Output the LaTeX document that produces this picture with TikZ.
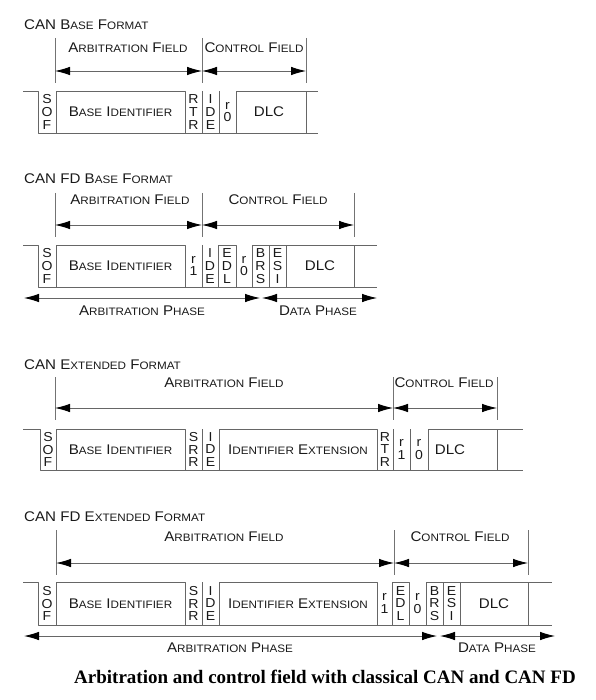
\documentclass[tikz,border=0pt]{standalone}
\usepackage{fontspec}
\setmainfont{Liberation Sans}[FakeStretch=1.08]
\newfontfamily\capfont{Liberation Serif}
\usetikzlibrary{arrows.meta}
\newcommand\bigsz{\fontsize{14}{14}\selectfont}
\newcommand\smsz{\fontsize{10.8}{10.8}\selectfont}
\newcommand\fcap[2]{{\bigsz #1}{\smsz #2}}
\begin{document}
\begin{tikzpicture}[x=1pt, y=-1pt, line join=round,
	wave/.style={draw=black!60, line width=0.9pt},
	fld/.style={draw=black!55, line width=0.8pt},
	dim/.style={draw=black!60, line width=0.9pt,
		arrows={Latex[length=15pt,width=8.5pt,fill=black,color=black]-Latex[length=15pt,width=8.5pt,fill=black,color=black]}},
	lbl/.style={text=black!90, inner sep=0pt, font=\bigsz},
	bit/.style={text=black!90, inner sep=0pt, align=center, font=\fontsize{13}{12.6}\selectfont}]
	\useasboundingbox (0,0) rectangle (595,700);
	% CAN base format
	\def\tp{91} \def\bt{133} \def\my{112}
	\node[lbl,anchor=west] (t1) at (24,25) {CAN \fcap{B}{ASE} \fcap{F}{ORMAT}};
	\foreach \x in {55,202,306} \draw[fld] (\x,38) -- (\x,83);
	\coordinate (f1a) at (55,71); \coordinate (f1b) at (202,71); \coordinate (f1c) at (306,71);
	\draw[dim] (f1a) -- (f1b);
	\draw[dim] (f1b) -- (f1c);
	\node[lbl] (af1) at (128,48) {\fcap{A}{RBITRATION} \fcap{F}{IELD}};
	\node[lbl] (cf1) at (254,48) {\fcap{C}{ONTROL} \fcap{F}{IELD}};
	\draw[wave] (23,\tp) -- (38,\tp) -- (38,\bt) -- (318,\bt) (306,\tp) -- (318,\tp);
	\foreach \a/\b in {56/185,236/306} \draw[wave] (\a,\bt) rectangle (\b,\tp);
	\foreach \x in {202,219} \draw[wave] (\x,\tp) -- (\x,\bt);
	\foreach \n/\x/\t in {sof1/47/S\\O\\F, rtr1/193.5/R\\T\\R, ide1/210.5/I\\D\\E, rz1/227.5/r\\0}
		\node[bit] (\n) at (\x,\my) {\t};
	\node[lbl] (bid1) at (120.5,\my) {\fcap{B}{ASE} \fcap{I}{DENTIFIER}};
	\node[lbl] (dlc1) at (269,\my) {DLC};

	% CAN FD base format
	\def\tp{245} \def\bt{287} \def\my{266}
	\node[lbl,anchor=west] (t2) at (24,179) {CAN FD \fcap{B}{ASE} \fcap{F}{ORMAT}};
	\foreach \x in {55,202,354} \draw[fld] (\x,193) -- (\x,237);
	\coordinate (f2a) at (55,225); \coordinate (f2b) at (202,225); \coordinate (f2c) at (354,225);
	\draw[dim] (f2a) -- (f2b);
	\draw[dim] (f2b) -- (f2c);
	\node[lbl] (af2) at (130,200) {\fcap{A}{RBITRATION} \fcap{F}{IELD}};
	\node[lbl] (cf2) at (278,200) {\fcap{C}{ONTROL} \fcap{F}{IELD}};
	\draw[wave] (23,\tp) -- (38,\tp) -- (38,\bt) -- (377,\bt) (354,\tp) -- (377,\tp);
	\foreach \a/\b in {56/185,218/236,252/269,269/286,286/354} \draw[wave] (\a,\bt) rectangle (\b,\tp);
	\foreach \x in {202} \draw[wave] (\x,\tp) -- (\x,\bt);
	\foreach \n/\x/\t in {sof2/47/S\\O\\F, ro2/193.5/r\\1, ide2/210/I\\D\\E, edl2/227/E\\D\\L, rz2/244/r\\0, brs2/260.5/B\\R\\S, esi2/277.5/E\\S\\I}
		\node[bit] (\n) at (\x,\my) {\t};
	\node[lbl] (bid2) at (120.5,\my) {\fcap{B}{ASE} \fcap{I}{DENTIFIER}};
	\node[lbl] (dlc2) at (320,\my) {DLC};
	\coordinate (p2a) at (24,298); \coordinate (p2b) at (260,298);
	\coordinate (p2c) at (262,298); \coordinate (p2d) at (377,298);
	\draw[dim] (p2a) -- (p2b);
	\draw[dim] (p2c) -- (p2d);
	\node[lbl] (ap2) at (142,311) {\fcap{A}{RBITRATION} \fcap{P}{HASE}};
	\node[lbl] (dp2) at (318,311) {\fcap{D}{ATA} \fcap{P}{HASE}};

	% CAN extended format
	\def\tp{429} \def\bt{470} \def\my{449.5}
	\node[lbl,anchor=west] (t3) at (24,365) {CAN \fcap{E}{XTENDED} \fcap{F}{ORMAT}};
	\foreach \x in {55,393,497} \draw[fld] (\x,377) -- (\x,420);
	\coordinate (f3a) at (55,408); \coordinate (f3b) at (393,408); \coordinate (f3c) at (497,408);
	\draw[dim] (f3a) -- (f3b);
	\draw[dim] (f3b) -- (f3c);
	\node[lbl] (af3) at (224,383) {\fcap{A}{RBITRATION} \fcap{F}{IELD}};
	\node[lbl] (cf3) at (444,383) {\fcap{C}{ONTROL} \fcap{F}{IELD}};
	\draw[wave] (23,\tp) -- (40,\tp) -- (40,\bt) -- (523,\bt) (497,\tp) -- (523,\tp);
	\foreach \a/\b in {56/185,219/377,428/497} \draw[wave] (\a,\bt) rectangle (\b,\tp);
	\foreach \x in {202,393,410} \draw[wave] (\x,\tp) -- (\x,\bt);
	\foreach \n/\x/\t in {sof3/48/S\\O\\F, srr3/193.5/S\\R\\R, ide3/210.5/I\\D\\E, rtr3/385/R\\T\\R, ro3/401.5/r\\1, rz3/419/r\\0}
		\node[bit] (\n) at (\x,\my) {\t};
	\node[lbl] (bid3) at (120.5,\my) {\fcap{B}{ASE} \fcap{I}{DENTIFIER}};
	\node[lbl] (ext3) at (298,\my) {\fcap{I}{DENTIFIER} \fcap{E}{XTENSION}};
	\node[lbl] (dlc3) at (450,\my) {DLC};

	% CAN FD extended format
	\def\tp{582} \def\bt{625} \def\my{603.5}
	\node[lbl,anchor=west] (t4) at (24,517) {CAN FD \fcap{E}{XTENDED} \fcap{F}{ORMAT}};
	\foreach \x in {56,394,528} \draw[fld] (\x,530) -- (\x,575);
	\coordinate (f4a) at (56,563); \coordinate (f4b) at (394,563); \coordinate (f4c) at (528,563);
	\draw[dim] (f4a) -- (f4b);
	\draw[dim] (f4b) -- (f4c);
	\node[lbl] (af4) at (224,537) {\fcap{A}{RBITRATION} \fcap{F}{IELD}};
	\node[lbl] (cf4) at (460,537) {\fcap{C}{ONTROL} \fcap{F}{IELD}};
	\draw[wave] (23,\tp) -- (38,\tp) -- (38,\bt) -- (552,\bt) (528,\tp) -- (552,\tp);
	\foreach \a/\b in {56/185,219/377,392/409,426/443,443/460,460/528} \draw[wave] (\a,\bt) rectangle (\b,\tp);
	\foreach \x in {202} \draw[wave] (\x,\tp) -- (\x,\bt);
	\foreach \n/\x/\t in {sof4/47/S\\O\\F, srr4/193.5/S\\R\\R, ide4/210.5/I\\D\\E, ro4/384.5/r\\1, edl4/400.5/E\\D\\L, rz4/417.5/r\\0, brs4/434.5/B\\R\\S, esi4/451.5/E\\S\\I}
		\node[bit] (\n) at (\x,\my) {\t};
	\node[lbl] (bid4) at (120.5,\my) {\fcap{B}{ASE} \fcap{I}{DENTIFIER}};
	\node[lbl] (ext4) at (298,\my) {\fcap{I}{DENTIFIER} \fcap{E}{XTENSION}};
	\node[lbl] (dlc4) at (494,\my) {DLC};
	\coordinate (p4a) at (24,636); \coordinate (p4b) at (437,636);
	\coordinate (p4c) at (440,636); \coordinate (p4d) at (555,636);
	\draw[dim] (p4a) -- (p4b);
	\draw[dim] (p4c) -- (p4d);
	\node[lbl] (ap4) at (230,648) {\fcap{A}{RBITRATION} \fcap{P}{HASE}};
	\node[lbl] (dp4) at (497,648) {\fcap{D}{ATA} \fcap{P}{HASE}};

	\node[inner sep=0pt, font=\capfont\bfseries\fontsize{19}{19}\selectfont] (cap) at (325,677)
		{Arbitration and control field with classical CAN and CAN FD};
\end{tikzpicture}
\end{document}
